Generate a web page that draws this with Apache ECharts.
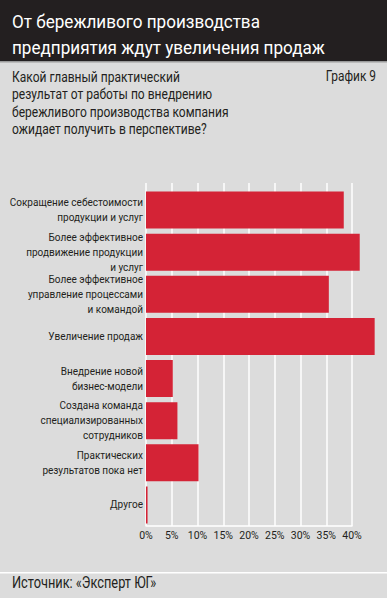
<!DOCTYPE html>
<html><head><meta charset="utf-8">
<script src="https://cdn.jsdelivr.net/npm/echarts@6/dist/echarts.min.js"></script>
<style>html,body{margin:0;padding:0;background:#dcdcdc}#c{width:387px;height:598px}</style>
</head><body><div id="c"></div>
<script>
const categories = [
  'Сокращение себестоимости\nпродукции и услуг',
  'Более эффективное\nпродвижение продукции\nи услуг',
  'Более эффективное\nуправление процессами\nи командой',
  'Увеличение продаж',
  'Внедрение новой\nбизнес-модели',
  'Создана команда\nспециализированных\nсотрудников',
  'Практических\nрезультатов пока нет',
  'Другое'
];
const values = [38.4, 41.5, 35.5, 44.4, 5.2, 6.1, 10.2, 0.3];
const tickLabels = ['0%','5%','10%','15%','20%','25%','30%','35%','40%'];
const titleLines = ['От бережливого производства', 'предприятия ждут увеличения продаж'];
const questionLines = ['Какой главный практический', 'результат от работы по внедрению', 'бережливого производства компания', 'ожидает получить в перспективе?'];
const chartLabel = 'График 9';
const sourceText = 'Источник: «Эксперт ЮГ»';

const FONT = 'Roboto, "Liberation Sans", sans-serif';
const chart = echarts.init(document.getElementById('c'), null, {renderer: 'svg'});
chart.setOption({
  backgroundColor: '#dcdcdc',
  animation: false,
  graphic: [
    {type: 'rect', shape: {x: 0, y: 0, width: 387, height: 61}, style: {fill: '#231f20'}, z: 0},
    {type: 'rect', shape: {x: 0, y: 61, width: 387, height: 1.5}, style: {fill: '#9a9a9a'}, z: 0},
    {type: 'rect', shape: {x: 0, y: 572, width: 387, height: 1.5}, style: {fill: '#ffffff'}, z: 0},
    {type: 'text', x: 12, y: 8, scaleX: 0.9, style: {text: titleLines.join('\n'), fill: '#ffffff', font: '19px ' + FONT, lineHeight: 26}, z: 5},
    {type: 'text', x: 12, y: 68, scaleX: 0.83, style: {text: questionLines.join('\n'), fill: '#231f20', font: '14.5px ' + FONT, lineHeight: 17.6}, z: 5},
    {type: 'text', x: 376, y: 69, scaleX: 0.85, style: {text: chartLabel, fill: '#231f20', font: '14px ' + FONT, align: 'right'}, z: 5},
    {type: 'text', x: 12, y: 575, scaleX: 0.8, style: {text: sourceText, fill: '#231f20', font: '16px ' + FONT}, z: 5}
  ],
  grid: [
    {left: 146, right: 35, top: 189, bottom: 72, outerBoundsMode: 'none', containLabel: false},
    {left: 146, right: 35, top: 183, bottom: 72, outerBoundsMode: 'none', containLabel: false}
  ],
  xAxis: [
    {gridIndex: 0, type: 'value', min: 0, max: 40, interval: 5,
     axisLine: {show: true, lineStyle: {color: '#ffffff', width: 1.5}},
     axisTick: {show: false}, splitLine: {show: false},
     axisLabel: {color: '#231f20', fontFamily: FONT, fontSize: 10.5, margin: 4, hideOverlap: false,
       formatter: (v) => tickLabels[Math.round(v / 5)] || ''}},
    {gridIndex: 1, type: 'value', min: 0, max: 40, interval: 5,
     axisLine: {show: false}, axisTick: {show: false}, axisLabel: {show: false},
     splitLine: {show: true, lineStyle: {color: '#ffffff', width: 1.5}}}
  ],
  yAxis: [
    {gridIndex: 0, type: 'category', data: categories, inverse: true,
     axisLine: {show: false}, axisTick: {show: false},
     axisLabel: {color: '#231f20', fontFamily: FONT, fontSize: 10, lineHeight: 15, margin: 3, align: 'right', interval: 0}},
    {gridIndex: 1, type: 'category', data: categories, show: false}
  ],
  series: [{
    type: 'bar', xAxisIndex: 0, yAxisIndex: 0, data: values, clip: false,
    barCategoryGap: '12%', itemStyle: {color: '#d42336'}, z: 3
  }]
});
</script></body></html>
